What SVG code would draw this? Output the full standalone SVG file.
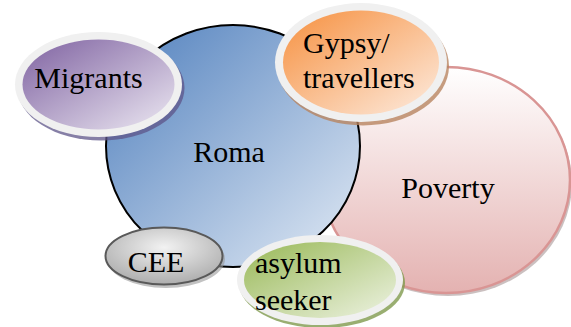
<svg xmlns="http://www.w3.org/2000/svg" width="571" height="327" viewBox="0 0 571 327">
<style>
.t{font-family:'Liberation Serif','Times New Roman',serif;font-size:30px;fill:#000}
.ring{fill:#f0f0f0}
</style>
<defs>
<linearGradient id="gRoma" x1="0" y1="0" x2="1" y2="1"><stop offset="0" stop-color="#4f7fbd"/><stop offset="1" stop-color="#e3ebf5"/></linearGradient>
<linearGradient id="gPov" x1="0" y1="0" x2="0" y2="1"><stop offset="0" stop-color="#ffffff"/><stop offset="1" stop-color="#e4b2b1"/></linearGradient>
<linearGradient id="gMig" x1="0" y1="0" x2="1" y2="1"><stop offset="0" stop-color="#7f62a1"/><stop offset="1" stop-color="#ece8f2"/></linearGradient>
<linearGradient id="gGyp" x1="0" y1="0" x2="1" y2="1"><stop offset="0" stop-color="#f6903f"/><stop offset="1" stop-color="#fdece0"/></linearGradient>
<linearGradient id="gAsy" x1="0" y1="0" x2="1" y2="1"><stop offset="0" stop-color="#98b856"/><stop offset="1" stop-color="#eef3e3"/></linearGradient>
<radialGradient id="gCee" cx="0.5" cy="0.35" r="0.7"><stop offset="0" stop-color="#f2f2f2"/><stop offset="1" stop-color="#a8a8a8"/></radialGradient>
</defs>
<g id="poverty">
<ellipse cx="448" cy="183" rx="124" ry="113" fill="#a08c8c" opacity="0.55"/>
<ellipse cx="446" cy="180" rx="124" ry="113" fill="url(#gPov)" stroke="#d99594" stroke-width="2.5"/>
<text class="t" x="448" y="198" text-anchor="middle">Poverty</text>
</g>
<g id="roma">
<ellipse cx="233" cy="146" rx="127" ry="121" fill="url(#gRoma)" stroke="#000" stroke-width="2"/>
<text class="t" x="229" y="162" text-anchor="middle">Roma</text>
</g>
<g id="migrants">
<ellipse cx="101" cy="88" rx="83.5" ry="52.5" fill="#5d5488" opacity="0.75"/>
<ellipse class="ring" cx="98.5" cy="84.5" rx="83.5" ry="52.5"/>
<ellipse cx="98.5" cy="84.5" rx="76" ry="45" fill="url(#gMig)"/>
<text class="t" x="88.5" y="88" text-anchor="middle">Migrants</text>
</g>
<g id="gypsy">
<ellipse cx="363" cy="66" rx="86" ry="59.5" fill="#b88560" opacity="0.8"/>
<ellipse class="ring" cx="361" cy="62.5" rx="86" ry="59.5"/>
<ellipse cx="361" cy="62.5" rx="78" ry="52" fill="url(#gGyp)"/>
<text class="t" x="303" y="53">Gypsy/</text>
<text class="t" x="303" y="88">travellers</text>
</g>
<g id="cee">
<ellipse cx="166" cy="259" rx="59" ry="29" fill="#9a9a9a" opacity="0.6"/>
<ellipse cx="164" cy="256" rx="58.5" ry="28.5" fill="url(#gCee)" stroke="#595959" stroke-width="2"/>
<text class="t" x="156" y="272" text-anchor="middle">CEE</text>
</g>
<g id="asylum">
<ellipse cx="322" cy="283" rx="83" ry="45" fill="#7f9a4e" opacity="0.8"/>
<ellipse class="ring" cx="320" cy="280" rx="83" ry="45"/>
<ellipse cx="320" cy="280" rx="76" ry="38" fill="url(#gAsy)"/>
<text class="t" x="255" y="273">asylum</text>
<text class="t" x="255" y="310">seeker</text>
</g>
<g id="connectors"></g>
</svg>
